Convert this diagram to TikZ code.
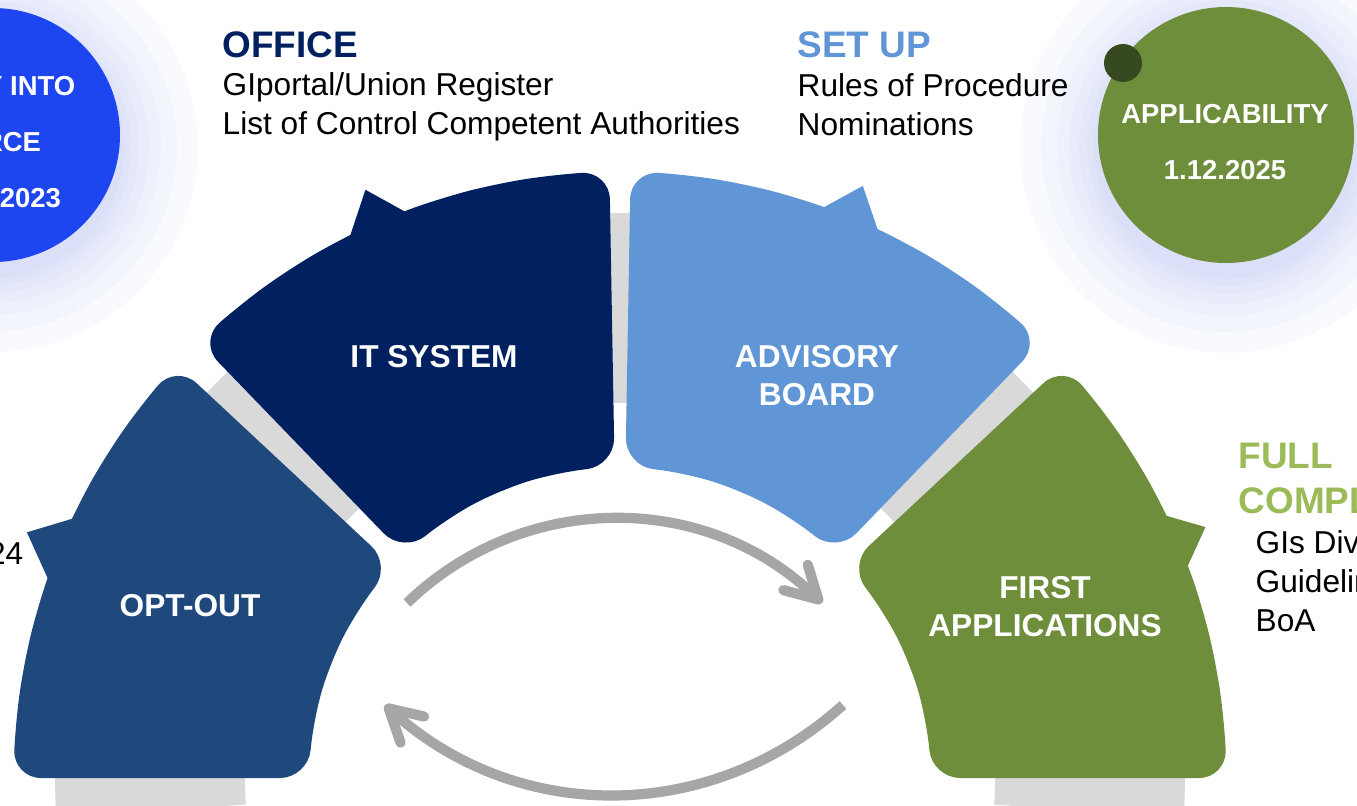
\documentclass[tikz,border=0pt]{standalone}
\usepackage{fontspec}
\setmainfont{Liberation Sans}
\usepackage{tikz}
\usetikzlibrary{arrows.meta}
\definecolor{optblue}{HTML}{1F497D}
\definecolor{itnavy}{HTML}{002060}
\definecolor{boardblue}{HTML}{6096D5}
\definecolor{appgreen}{HTML}{6F8E3B}
\definecolor{dotgreen}{HTML}{374A1F}
\definecolor{forceblue}{HTML}{1E46F0}
\definecolor{fullgreen}{HTML}{9BBB59}
\definecolor{ringgray}{HTML}{D9D9D9}
\definecolor{arrowgray}{HTML}{A6A6A6}
\definecolor{glowblue}{RGB}{120,140,230}
\tikzstyle{piece} = [rounded corners=8pt]
\tikzstyle{ring} = [draw=ringgray, line width=54pt]
\tikzstyle{glow} = [fill=glowblue, opacity=0.045]
\tikzstyle{piecetext} = [text=white, inner sep=0pt, align=center,
    font=\fontsize{9}{10.8}\selectfont\bfseries]
\tikzstyle{datetext} = [text=white, inner sep=0pt, align=center,
    font=\fontsize{7.8}{15.9}\selectfont\bfseries]
\tikzstyle{head} = [anchor=base west, inner sep=0pt, align=left,
    font=\fontsize{10.5}{12.8}\selectfont\bfseries]
\tikzstyle{body} = [anchor=north west, inner sep=0pt, align=left,
    font=\fontsize{9}{11}\selectfont]
\tikzstyle{cyclearrow} = [draw=arrowgray, line width=2.9pt,
    -{Straight Barb[length=9pt,width=10pt,round]}]
\begin{document}
\begin{tikzpicture}[x=0.01cm, y=0.01cm]
    \useasboundingbox (0,0) rectangle (1357,-805);
    \clip (0,0) rectangle (1357,-805);

    % soft glow behind the two date circles
    \fill[glow] (-7,-147) circle[radius=131];
    \fill[glow] (-7,-147) circle[radius=138];
    \fill[glow] (-7,-147) circle[radius=146];
    \fill[glow] (-7,-147) circle[radius=156];
    \fill[glow] (-7,-147) circle[radius=168];
    \fill[glow] (-7,-147) circle[radius=184];
    \fill[glow] (-7,-147) circle[radius=205];
    \fill[glow] (1226,-147) circle[radius=132];
    \fill[glow] (1226,-147) circle[radius=139];
    \fill[glow] (1226,-147) circle[radius=147];
    \fill[glow] (1226,-147) circle[radius=157];
    \fill[glow] (1226,-147) circle[radius=169];
    \fill[glow] (1226,-147) circle[radius=185];
    \fill[glow] (1226,-147) circle[radius=206];

    % grey ring that shows between the pieces
    \draw[ring] (620,-778) ++(184:470) arc[start angle=184, end angle=-4, radius=470];

    % the four pieces around the centre of the ring
    \begin{scope}[shift={(620,-778)}]
    \fill[piece, optblue] (180:460) -- (180:607) -- (174.625:607) -- (169.25:607) -- (163.875:607)
        -- (158.5:607) -- (153.125:607) -- (147.75:607) -- (142.375:607) -- (137:607)
        -- (137:312) -- (147.75:312) -- (158.5:312) -- (169.25:312) -- (180:312) -- cycle;
    \fill[optblue] (157.5:642) -- (161.9:595) -- (153.7:595) -- cycle;

    \fill[piece, itnavy] (134:460) -- (134:607) -- (128.625:607) -- (123.25:607) -- (117.875:607)
        -- (112.5:607) -- (107.125:607) -- (101.75:607) -- (96.375:607) -- (91:607)
        -- (91:312) -- (101.75:312) -- (112.5:312) -- (123.25:312) -- (134:312) -- cycle;
    \fill[itnavy] (113.4:641) -- (109.9:595) -- (117.5:595) -- cycle;

    \fill[piece, boardblue] (89:460) -- (89:607) -- (83.625:607) -- (78.25:607) -- (72.875:607)
        -- (67.5:607) -- (62.125:607) -- (56.75:607) -- (51.375:607) -- (46:607)
        -- (46:312) -- (56.75:312) -- (67.5:312) -- (78.25:312) -- (89:312) -- cycle;
    \fill[boardblue] (67.7:640) -- (71.3:595) -- (63.8:595) -- cycle;

    \fill[piece, appgreen] (43:460) -- (43:607) -- (37.625:607) -- (32.25:607) -- (26.875:607)
        -- (21.5:607) -- (16.125:607) -- (10.75:607) -- (5.375:607) -- (0:607)
        -- (0:312) -- (10.75:312) -- (21.5:312) -- (32.25:312) -- (43:312) -- cycle;
    \fill[appgreen] (23.2:637) -- (26.6:595) -- (19.4:595) -- cycle;
    \end{scope}

    \node[piecetext] (optout) at (190,-606) {OPT-OUT};
    \node[piecetext] (itsystem) at (434,-357) {IT SYSTEM};
    \node[piecetext] (board) at (817,-376) {ADVISORY\\BOARD};
    \node[piecetext] (firstapp) at (1045,-607) {FIRST\\APPLICATIONS};

    % the two arrows of the cycle
    \coordinate (topstart) at (407,-603);
    \coordinate (topend) at (822,-603);
    \coordinate (botstart) at (843,-705);
    \coordinate (botend) at (385,-705);
    \draw[cyclearrow] (topstart) to[bend left=44] (topend);
    \draw[cyclearrow] (botstart) to[bend left=42] (botend);

    % date circles
    \fill[forceblue] (-7,-135) circle[radius=127];
    \node[datetext] (force) at (-7,-142) {ENTRY INTO\\FORCE\\16.11.2023};
    \fill[appgreen] (1226,-135) circle[radius=128];
    \fill[dotgreen] (1123,-63) circle[radius=19];
    \node[datetext] (apply) at (1225,-142) {APPLICABILITY\\1.12.2025};

    % texts beside the pieces
    \node[head, text=itnavy] (office) at (222,-57) {OFFICE};
    \node[body] (officelist) at (222,-72) {GIportal/Union Register\\List of Control Competent Authorities};
    \node[head, text=boardblue] (setup) at (797,-57) {SET UP};
    \node[body] (setuplist) at (797,-73) {Rules of Procedure\\Nominations};
    \node[head, anchor=north west, text=fullgreen] (full) at (1238,-442) {FULL\\COMPLIANCE};
    \node[body] (fulllist) at (1255,-530) {GIs Division\\Guidelines\\BoA};
    \node[body, anchor=base east] (optdate) at (24,-564) {24};
\end{tikzpicture}
\end{document}
